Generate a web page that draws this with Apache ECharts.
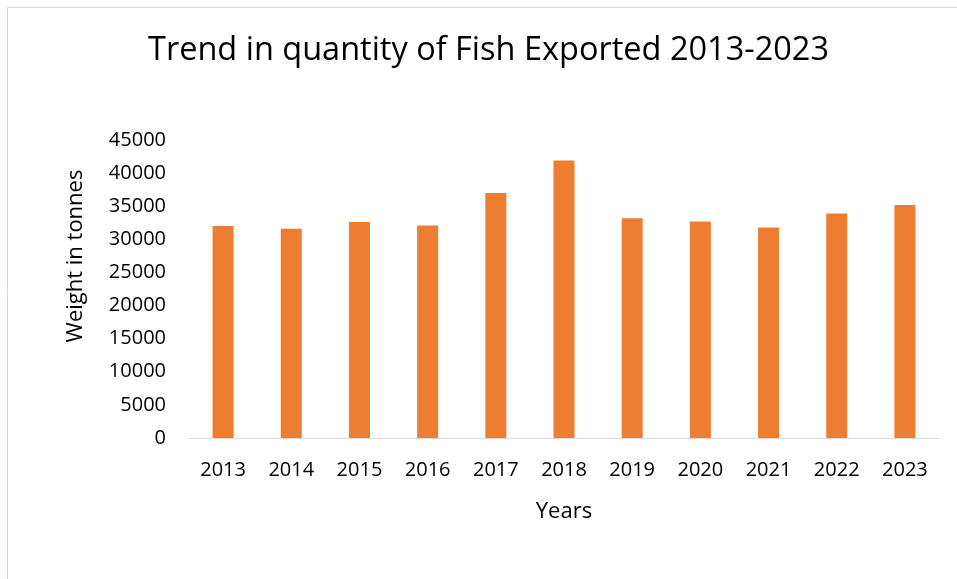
<!DOCTYPE html>
<html>
<head>
<meta charset="utf-8">
<script src="https://cdn.jsdelivr.net/npm/echarts@6/dist/echarts.min.js"></script>
<style>
  html, body { margin: 0; padding: 0; background: #ffffff; }
  #chart { width: 957px; height: 579px; }
</style>
</head>
<body>
<div id="chart"></div>
<script>
// Annual fish export volumes, in tonnes
var years = ['2013', '2014', '2015', '2016', '2017', '2018', '2019', '2020', '2021', '2022', '2023'];
var exportTonnes = [32000, 31600, 32600, 32100, 37000, 41900, 33200, 32700, 31800, 33900, 35200];
var yTicks = { min: 0, max: 45000, step: 5000 };

var FONT = '"Open Sans", "Noto Sans", sans-serif';
var chart = echarts.init(document.getElementById('chart'), null, { renderer: 'canvas' });

chart.setOption({
  backgroundColor: '#ffffff',
  animation: false,
  title: {
    text: 'Trend in quantity of Fish Exported 2013-2023',
    left: 148,
    top: 34,
    padding: 0,
    textStyle: { fontFamily: FONT, fontSize: 32.5, fontWeight: 'normal', color: '#000000' }
  },
  grid: { left: 189, right: 18, top: 140, bottom: 141, containLabel: false },
  xAxis: {
    type: 'category',
    data: years,
    name: 'Years',
    nameLocation: 'middle',
    nameGap: 63,
    nameTextStyle: { fontFamily: FONT, fontSize: 22, color: '#000000' },
    axisLine: { show: true, lineStyle: { color: '#d9d9d9', width: 1 } },
    axisTick: { show: false },
    axisLabel: { fontFamily: FONT, fontSize: 20, color: '#000000', margin: 22 }
  },
  yAxis: {
    type: 'value',
    min: yTicks.min,
    max: yTicks.max,
    interval: yTicks.step,
    axisLine: { show: false },
    axisTick: { show: false },
    splitLine: { show: false },
    axisLabel: {
      fontFamily: FONT, fontSize: 20, color: '#000000', margin: 23,
      formatter: function (v) { return String(v); }
    }
  },
  graphic: [
    {
      type: 'rect',
      shape: { x: 7.5, y: 7.5, width: 1200, height: 1200 },
      style: { fill: 'none', stroke: '#d9d9d9', lineWidth: 1 },
      silent: true,
      z: -10
    },
    {
      type: 'text',
      x: 76,
      y: 256,
      rotation: Math.PI / 2,
      style: {
        text: 'Weight in tonnes',
        font: '22px ' + FONT,
        fill: '#000000',
        textAlign: 'center',
        textVerticalAlign: 'middle'
      }
    }
  ],
  series: [{
    type: 'bar',
    data: exportTonnes,
    barWidth: 21,
    itemStyle: { color: '#ED7D31' }
  }]
});
</script>
</body>
</html>
